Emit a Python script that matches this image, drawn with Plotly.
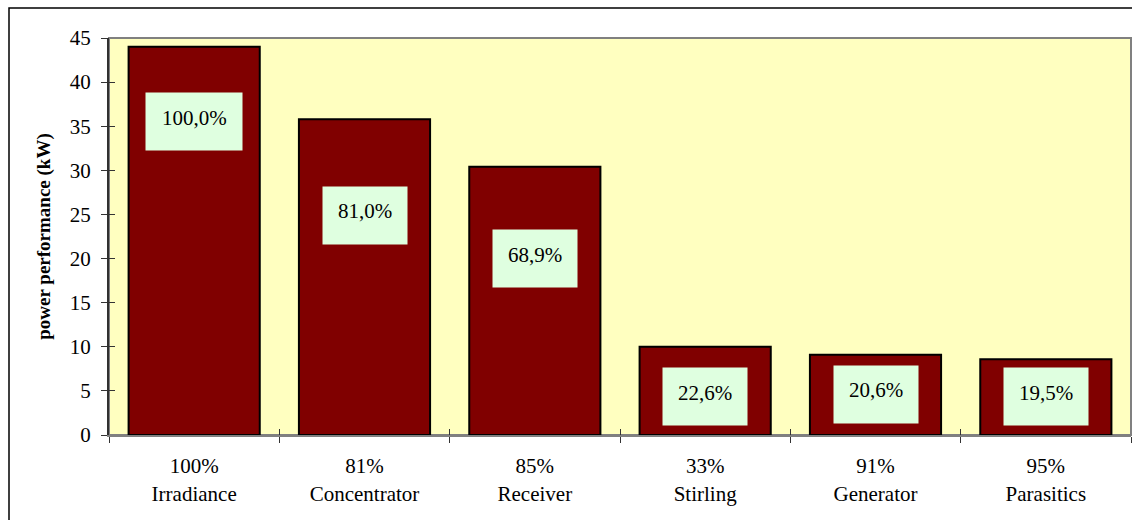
import plotly.graph_objects as go

# Stage names along the conversion chain and the efficiency of each step
stages = ["Irradiance", "Concentrator", "Receiver", "Stirling", "Generator", "Parasitics"]
step_efficiency = ["100%", "81%", "85%", "33%", "91%", "95%"]

# Power left after each stage (kW)
power_kw = [44.0, 35.8, 30.4, 10.0, 9.1, 8.6]

# Cumulative efficiency relative to the irradiance
cumulative_labels = ["100,0%", "81,0%", "68,9%", "22,6%", "20,6%", "19,5%"]

# Vertical placement (kW) of each cumulative-efficiency box
label_y = [35.5, 24.9, 20.0, 4.35, 4.6, 4.35]
label_w = [96, 84, 84, 84, 84, 84]

FONT = "Liberation Serif"
W, H = 1132, 520
ML, MR, MT, MB = 109, 1, 38, 85
plot_h = H - MT - MB
plot_w = W - ML - MR

fig = go.Figure()

fig.add_trace(go.Bar(
    x=stages,
    y=power_kw,
    width=0.77,
    marker=dict(color="#800000", line=dict(color="#000000", width=2)),
    hoverinfo="x+y",
    showlegend=False,
))

# Empty helper trace so the overlay axes (inner tick marks) are drawn
fig.add_trace(go.Scatter(
    x=stages, y=[None] * len(stages), xaxis="x2", yaxis="y2",
    mode="markers", showlegend=False, hoverinfo="skip",
))

tick_text = [f"{e}<br>{s}" for e, s in zip(step_efficiency, stages)]

fig.update_layout(
    width=W, height=H,
    margin=dict(l=ML, r=MR, t=MT, b=MB, pad=0),
    paper_bgcolor="#FFFFFF",
    plot_bgcolor="#FFFFC0",
    font=dict(family=FONT, size=21, color="#000000"),
    bargap=0.23,
    xaxis=dict(
        type="category",
        categoryorder="array", categoryarray=stages,
        range=[-0.5, len(stages) - 0.5],
        tickvals=stages, ticktext=tick_text,
        tickson="boundaries",
        ticks="outside", ticklen=6, tickwidth=1, tickcolor="#333333",
        showline=True, linecolor="#808080", linewidth=2,
        showgrid=False, zeroline=False,
        tickfont=dict(family=FONT, size=21, color="#000000"),
        ticklabelstandoff=11,
        fixedrange=True,
    ),
    yaxis=dict(
        range=[0, 45], dtick=5, tick0=0,
        ticks="outside", ticklen=6, tickwidth=1, tickcolor="#333333",
        showline=True, linecolor="#303030", linewidth=2,
        showgrid=False, zeroline=False,
        tickfont=dict(family=FONT, size=21, color="#000000"),
        ticklabelstandoff=6,
        title=dict(text="<b>power performance (kW)</b>",
                   font=dict(family=FONT, size=19, color="#000000"),
                   standoff=14),
        fixedrange=True,
    ),
    xaxis2=dict(
        type="category",
        categoryorder="array", categoryarray=stages,
        range=[-0.5, len(stages) - 0.5],
        overlaying="x", anchor="y2", side="bottom",
        tickson="boundaries",
        ticks="inside", ticklen=6, tickwidth=1, tickcolor="#333333",
        showticklabels=False, showline=False, showgrid=False, zeroline=False,
        fixedrange=True,
    ),
    yaxis2=dict(
        range=[0, 45], dtick=5, tick0=0,
        overlaying="y", anchor="x2", side="left",
        ticks="inside", ticklen=6, tickwidth=1, tickcolor="#333333",
        showticklabels=False, showline=False, showgrid=False, zeroline=False,
        fixedrange=True,
    ),
)

# Gray frame on the plot area (top and right edges)
fig.add_shape(type="rect", xref="paper", yref="paper", x0=0, x1=1, y0=0, y1=1,
              line=dict(color="#808080", width=2), fillcolor="rgba(0,0,0,0)", layer="below")

# Outer chart border
fig.add_shape(type="rect", xref="paper", yref="paper",
              x0=(9 - ML) / plot_w, x1=(W + 20 - ML) / plot_w,
              y0=-0.5, y1=(H - MB - 8) / plot_h,
              line=dict(color="#000000", width=1.5), fillcolor="rgba(0,0,0,0)")

# Cumulative efficiency boxes, with the text sitting a little above centre
for s, txt, yv, w in zip(stages, cumulative_labels, label_y, label_w):
    fig.add_annotation(
        x=s, y=yv, xref="x", yref="y",
        text=" ", showarrow=False,
        width=w, height=57, borderpad=0,
        bgcolor="#DFFFE0",
    )
    fig.add_annotation(
        x=s, y=yv, xref="x", yref="y", yshift=4,
        text=txt, showarrow=False,
        font=dict(family=FONT, size=21, color="#000000"),
        align="center",
    )

fig.write_html("out.html")
